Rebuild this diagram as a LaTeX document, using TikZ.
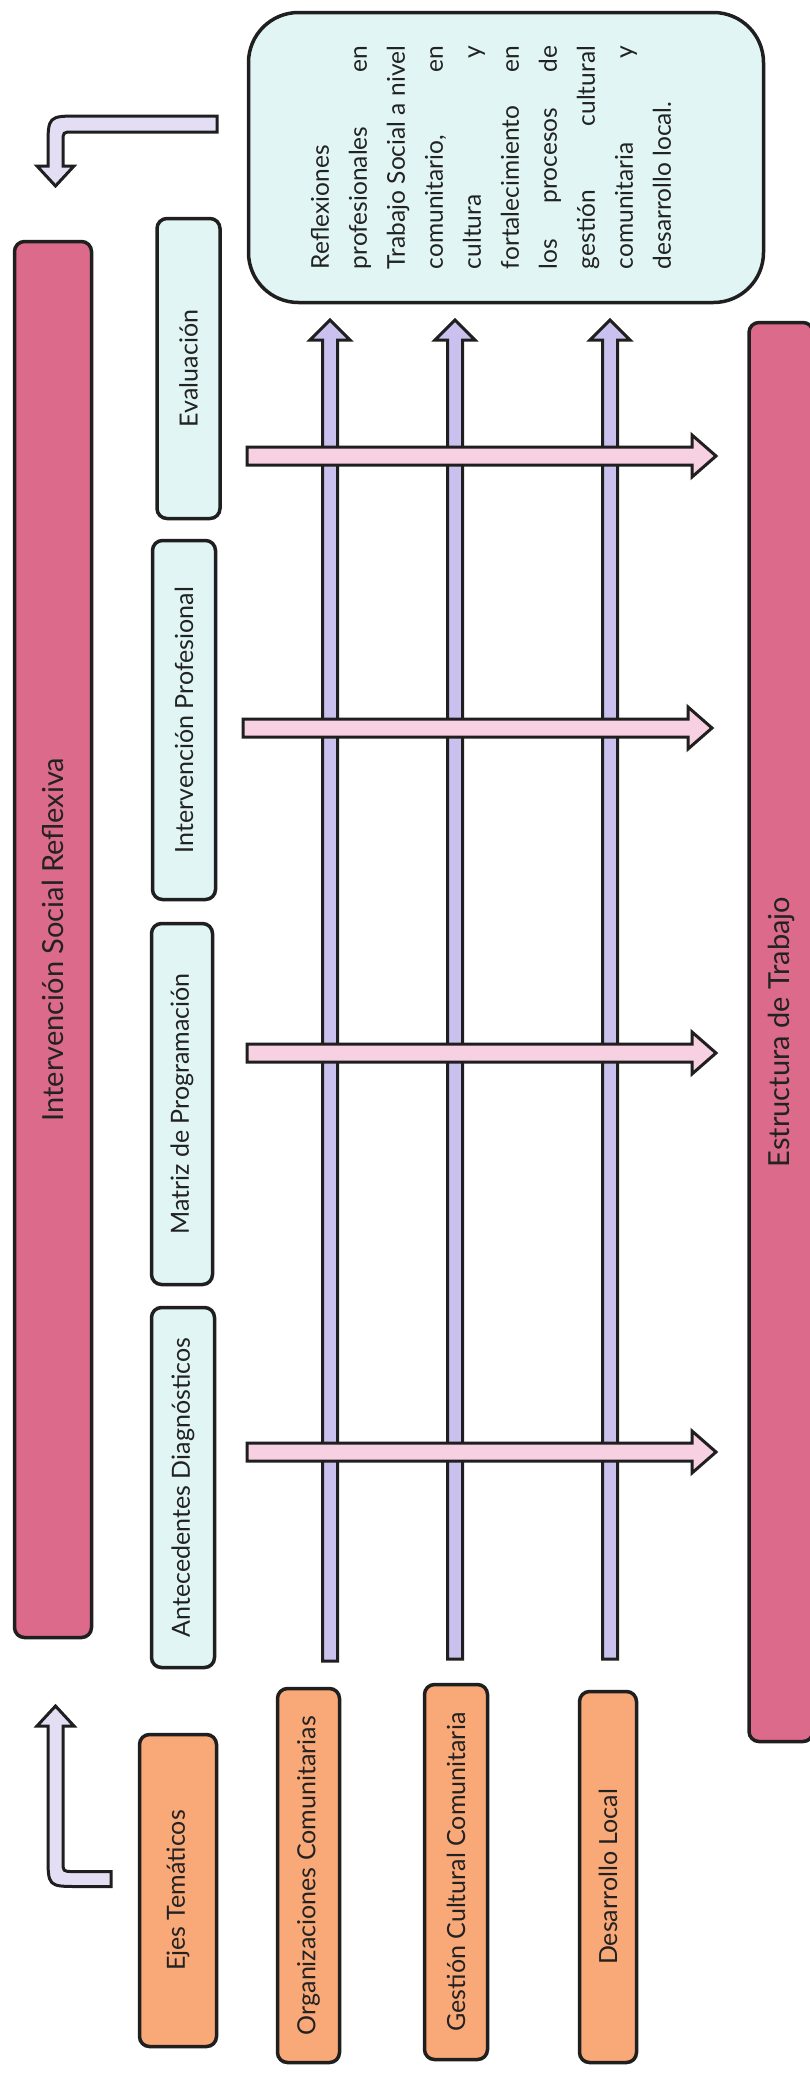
\documentclass[tikz,border=0pt]{standalone}
\usepackage{fontspec}
\setmainfont{Lato}
\usetikzlibrary{calc}
\definecolor{barpink}{HTML}{DC6A8A}
\definecolor{boxcyan}{HTML}{E1F5F4}
\definecolor{boxorange}{HTML}{F9A877}
\definecolor{linepurple}{HTML}{CBC1EE}
\definecolor{arrpink}{HTML}{F7D0E2}
\definecolor{bentlav}{HTML}{E4DEF5}
\definecolor{edge}{HTML}{1F1F1F}
\definecolor{ink}{HTML}{222222}
\tikzset{
  base/.style={draw=edge, line width=3.5pt, rounded corners=10pt, inner sep=0pt, text=ink},
  bar/.style={base, fill=barpink, font=\fontsize{29}{34}\selectfont},
  cyanbox/.style={base, fill=boxcyan, font=\fontsize{25}{30}\selectfont},
  orangebox/.style={base, fill=boxorange, font=\fontsize{25}{30}\selectfont},
  resbox/.style={base, fill=boxcyan, rounded corners=50pt, font=\fontsize{24.5}{38}\selectfont},
  upblock/.style={draw=edge, line width=3pt, fill=linepurple, line join=miter},
  rightblock/.style={draw=edge, line width=3pt, fill=arrpink, line join=miter},
  bentblock/.style={draw=edge, line width=3pt, fill=bentlav, line join=miter},
}
\newcommand{\vtext}[1]{\rotatebox{90}{#1}}
\newcommand{\upblockarrow}[2]{%
  \draw[upblock] let \p1=(#1), \p2=(#2) in
    (\x1-7.5pt,\y1) -- (\x1-7.5pt,\y2-20pt) -- (\x1-20pt,\y2-20pt) -- (\x1,\y2)
    -- (\x1+20pt,\y2-20pt) -- (\x1+7.5pt,\y2-20pt) -- (\x1+7.5pt,\y1) -- cycle;}
\newcommand{\rightblockarrow}[2]{%
  \draw[rightblock] let \p1=(#1), \p2=(#2) in
    (\x1,\y1+9pt) -- (\x2-24pt,\y1+9pt) -- (\x2-24pt,\y1+21pt) -- (\x2,\y1)
    -- (\x2-24pt,\y1-21pt) -- (\x2-24pt,\y1-9pt) -- (\x1,\y1-9pt) -- cycle;}
\begin{document}
\begin{tikzpicture}[x=1pt,y=-1pt]
\useasboundingbox[fill=white] (0,0) rectangle (809,2078);

% main nodes
\node[bar, minimum width=77pt, minimum height=1396pt] (isr) at (53,939.5) {\vtext{Intervención Social Reflexiva}};
\node[bar, minimum width=64pt, minimum height=1419pt] (est) at (781,1032) {\vtext{Estructura de Trabajo}};

\node[cyanbox, minimum width=63pt, minimum height=300pt] (eva) at (188.5,368.5) {\vtext{Evaluación}};
\node[cyanbox, minimum width=63pt, minimum height=359pt] (ipr) at (184,720) {\vtext{Intervención Profesional}};
\node[cyanbox, minimum width=61pt, minimum height=361pt] (mat) at (182,1104) {\vtext{Matriz de Programación}};
\node[cyanbox, minimum width=63pt, minimum height=360pt] (ant) at (183,1487.5) {\vtext{Antecedentes Diagnósticos}};

\node[orangebox, minimum width=77pt, minimum height=312pt] (eje) at (178,1890.5) {\vtext{Ejes Temáticos}};
\node[orangebox, minimum width=62pt, minimum height=374pt] (org) at (308.5,1875.5) {\vtext{Organizaciones Comunitarias}};
\node[orangebox, minimum width=63pt, minimum height=375pt] (gcc) at (456,1872) {\vtext{Gestión Cultural Comunitaria}};
\node[orangebox, minimum width=57pt, minimum height=371pt] (dlo) at (608,1877) {\vtext{Desarrollo Local}};

\node[resbox, minimum width=515pt, minimum height=290pt] (res) at (506,157.5) {\hspace*{-30pt}\rotatebox{90}{\vbox{\hsize=223pt
  \hbox to\hsize{Reflexiones\hfill}
  \hbox to\hsize{profesionales\hfill en}
  \hbox to\hsize{Trabajo\hfill Social\hfill a\hfill nivel}
  \hbox to\hsize{comunitario,\hfill en}
  \hbox to\hsize{cultura\hfill y}
  \hbox to\hsize{fortalecimiento\hfill en}
  \hbox to\hsize{los\hfill procesos\hfill de}
  \hbox to\hsize{gestión\hfill cultural}
  \hbox to\hsize{comunitaria\hfill y}
  \hbox to\hsize{desarrollo local.\hfill}}}};

% endpoints of the block arrows
\coordinate (u1s) at (330,1661); \coordinate (u1t) at (330,320);
\coordinate (u2s) at (455,1659); \coordinate (u2t) at (455,320);
\coordinate (u3s) at (610,1659); \coordinate (u3t) at (610,320);
\coordinate (r1s) at (247,456);  \coordinate (r1t) at (716,456);
\coordinate (r2s) at (243,728);  \coordinate (r2t) at (712,728);
\coordinate (r3s) at (247,1053); \coordinate (r3t) at (716,1053);
\coordinate (r4s) at (247,1452); \coordinate (r4t) at (716,1452);

\upblockarrow{u1s}{u1t}
\upblockarrow{u2s}{u2t}
\upblockarrow{u3s}{u3t}
\rightblockarrow{r1s}{r1t}
\rightblockarrow{r2s}{r2t}
\rightblockarrow{r3s}{r3t}
\rightblockarrow{r4s}{r4t}

% bent arrows
\draw[bentblock] (217,116) -- (80,116) .. controls (48,116) .. (48,148) -- (48,166) -- (37,166)
  -- (55.5,186) -- (74,166) -- (63,166) -- (63,142) .. controls (63,132) .. (73,132) -- (217,132) -- cycle;
\draw[bentblock] (111,1871.5) -- (73,1871.5) .. controls (63,1871.5) .. (63,1861) -- (63,1726)
  -- (74,1726) -- (55.5,1706) -- (37,1726) -- (48,1726) -- (48,1855)
  .. controls (48,1886.5) .. (79,1886.5) -- (111,1886.5) -- cycle;
\end{tikzpicture}
\end{document}
